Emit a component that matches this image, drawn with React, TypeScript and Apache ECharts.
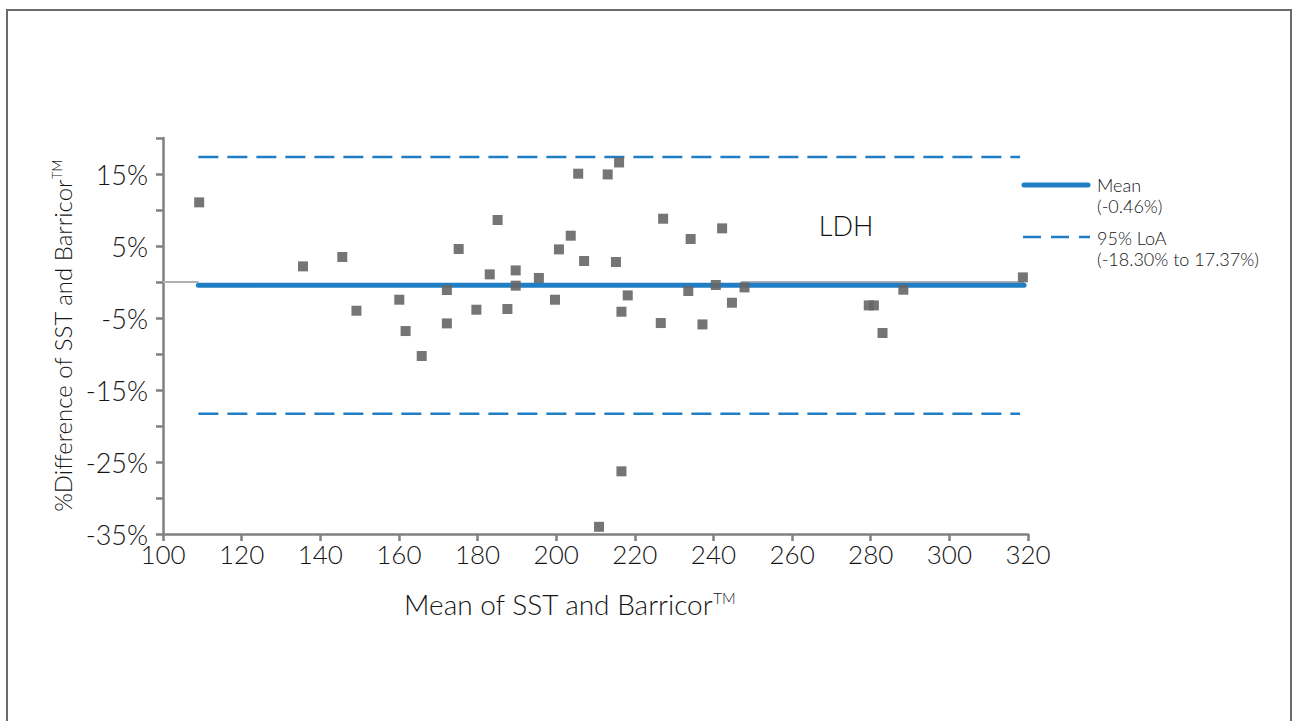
import React, { useEffect, useRef } from "react";
import * as echarts from "echarts";

const meanValues: number[] = [109.2, 135.6, 145.6, 149.2, 160.1, 161.7, 165.8, 172.2, 172.2, 175.2, 179.7, 183.1, 185.1, 187.6, 189.7, 189.7, 195.6, 199.7, 200.7, 203.7, 205.6, 207.1, 210.9, 213.1, 215.2, 216.0, 216.6, 216.6, 218.2, 226.6, 227.2, 233.6, 234.2, 237.2, 240.6, 242.2, 244.7, 247.9, 279.5, 280.8, 283.0, 288.3, 318.7];
const diffValues: number[] = [11.06, 2.17, 3.47, -3.99, -2.46, -6.81, -10.28, -1.11, -5.75, 4.58, -3.85, 1.06, 8.61, -3.75, 1.61, -0.51, 0.56, -2.46, 4.53, 6.43, 15.04, 2.92, -34.0, 14.94, 2.78, 16.6, -4.13, -26.3, -1.86, -5.7, 8.79, -1.25, 5.97, -5.89, -0.42, 7.45, -2.88, -0.75, -3.25, -3.25, -7.08, -1.07, 0.64];

const meanDiff = -0.46;
const lowerLoA = -18.3;
const upperLoA = 17.37;
const lineStart = 109;
const lineEnd = 319;

const xTicks = { min: 100, max: 320, interval: 20 };
const yTicks = { min: -35, max: 20, interval: 5 };
const yLabeled: number[] = [-35, -25, -15, -5, 5, 15];

const legendLabels = ["Mean", "(-0.46%)", "95% LoA", "(-18.30% to 17.37%)"];
const title = "LDH";

const BLUE = "#1f7ec4";
const AXIS = "#808080";
const FONT = "Lato";
const TXT = "#151515";

export default function App() {
  const ref = useRef<HTMLDivElement>(null);
  useEffect(() => {
    if (!ref.current) return;
    const chart = echarts.init(ref.current, undefined, { renderer: "svg" });
    const points = meanValues.map((x, i) => [x, diffValues[i]]);
    const legendText = (label: string, y: number) => ({
      type: "text",
      x: 1097,
      y,
      style: { text: label, fontSize: 18, fontWeight: 300, fontFamily: FONT, fill: TXT, verticalAlign: "middle" },
    });
    chart.setOption({
      animation: false,
      backgroundColor: "#ffffff",
      textStyle: { fontFamily: FONT },
      grid: { left: 163, right: 268, top: 138, bottom: 187 },
      xAxis: {
        type: "value",
        min: xTicks.min,
        max: xTicks.max,
        interval: xTicks.interval,
        splitLine: { show: false },
        axisLine: { show: true, onZero: false, lineStyle: { color: AXIS, width: 2.5 } },
        axisTick: { show: true, length: 7, lineStyle: { color: AXIS, width: 2.5 } },
        axisLabel: { color: TXT, fontSize: 26, fontWeight: 300, fontFamily: FONT, margin: 7 },
        name: "Mean of SST and Barricor{sup|TM}",
        nameLocation: "middle",
        nameGap: 56,
        nameTextStyle: {
          color: TXT,
          fontSize: 28,
          fontWeight: 300,
          fontFamily: FONT,
          padding: [0, 52, 0, 0],
          rich: { sup: { fontSize: 15, fontWeight: 300, color: TXT, padding: [0, 0, 13, 0] } },
        },
      },
      yAxis: {
        type: "value",
        min: yTicks.min,
        max: yTicks.max,
        interval: yTicks.interval,
        splitLine: { show: false },
        axisLine: { show: true, lineStyle: { color: AXIS, width: 2.5 } },
        axisTick: { show: true, length: 7, lineStyle: { color: AXIS, width: 2.5 } },
        axisLabel: {
          color: TXT,
          fontSize: 27,
          fontWeight: 300,
          fontFamily: FONT,
          margin: 15,
          formatter: (v: number) => (yLabeled.includes(v) ? v + "%" : ""),
        },
        name: "%Difference of SST and Barricor{sup|TM}",
        nameLocation: "middle",
        nameGap: 82,
        nameTextStyle: {
          color: TXT,
          fontSize: 24,
          fontWeight: 300,
          fontFamily: FONT,
          rich: { sup: { fontSize: 13, fontWeight: 300, color: TXT, padding: [0, 0, 11, 0] } },
        },
      },
      series: [
        {
          type: "line",
          data: [[xTicks.min, 0], [lineStart, 0]],
          symbol: "none",
          lineStyle: { color: "#b0b0b0", width: 2 },
          z: 1,
          silent: true,
        },
        {
          type: "line",
          data: [[247, 0], [lineEnd, 0]],
          symbol: "none",
          lineStyle: { color: "#b0b0b0", width: 2 },
          z: 1,
          silent: true,
        },
        {
          type: "line",
          data: [[lineStart, upperLoA], [lineEnd - 1, upperLoA]],
          symbol: "none",
          lineStyle: { color: BLUE, width: 2.5, type: [20, 9] },
          z: 2,
        },
        {
          type: "line",
          data: [[lineStart, lowerLoA], [lineEnd - 1, lowerLoA]],
          symbol: "none",
          lineStyle: { color: BLUE, width: 2.5, type: [20, 9] },
          z: 2,
        },
        {
          type: "line",
          data: [[lineStart, meanDiff], [lineEnd, meanDiff]],
          symbol: "none",
          lineStyle: { color: BLUE, width: 5, cap: "round" },
          z: 3,
        },
        {
          type: "scatter",
          data: points,
          symbol: "rect",
          symbolSize: 10,
          itemStyle: { color: "#666666", opacity: 0.9 },
          z: 5,
        },
      ],
      graphic: [
        {
          type: "rect",
          shape: { x: 7, y: 10, width: 1284, height: 800 },
          style: { fill: "none", stroke: "#6a6a6a", lineWidth: 2 },
          silent: true,
        },
        {
          type: "text",
          x: 846,
          y: 225,
          style: { text: title, fontSize: 27, fontWeight: 300, fontFamily: FONT, fill: "#111", align: "center", verticalAlign: "middle" },
        },
        {
          type: "line",
          shape: { x1: 1024, y1: 185, x2: 1088, y2: 185 },
          style: { stroke: BLUE, lineWidth: 5, lineCap: "round" },
        },
        legendText(legendLabels[0], 184.5),
        legendText(legendLabels[1], 206),
        {
          type: "line",
          shape: { x1: 1023, y1: 237, x2: 1090, y2: 237 },
          style: { stroke: BLUE, lineWidth: 2.5, lineDash: [18, 10] },
        },
        legendText(legendLabels[2], 237.5),
        legendText(legendLabels[3], 258.5),
      ],
    });
    return () => chart.dispose();
  }, []);
  return (
    <div
      ref={ref}
      style={{ position: "fixed", left: 0, top: 0, width: 1296, height: 721, background: "#fff" }}
    />
  );
}
